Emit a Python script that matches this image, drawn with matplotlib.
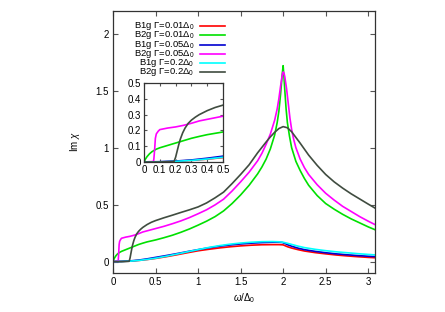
import matplotlib
matplotlib.use('Agg')
import matplotlib.pyplot as plt

plt.rcParams['font.family'] = ['Liberation Sans', 'DejaVu Sans']
plt.rcParams['font.size'] = 7
plt.rcParams['mathtext.fontset'] = 'custom'
plt.rcParams['mathtext.rm'] = 'Liberation Sans'
plt.rcParams['mathtext.it'] = 'Liberation Sans:italic'

# values (omega / Delta_0 , Im chi)
x_b1g_001 = [0, 0.1, 0.2, 0.3, 0.4, 0.5, 0.625, 0.75, 0.875, 1.0, 1.125, 1.25,
             1.375, 1.5, 1.625, 1.75, 1.875, 1.95, 2.0, 2.025, 2.05, 2.1, 2.175,
             2.25, 2.375, 2.5, 2.625, 2.75, 2.875, 3.0, 3.08]
y_b1g_001 = [0, 0.001, 0.004, 0.01, 0.018, 0.028, 0.043, 0.06, 0.078, 0.095,
             0.108, 0.12, 0.13, 0.138, 0.144, 0.148, 0.149, 0.149, 0.147, 0.139,
             0.131, 0.119, 0.105, 0.093, 0.079, 0.068, 0.058, 0.05, 0.043, 0.037,
             0.034]

x_b2g_001 = [0, 0.01, 0.02, 0.035, 0.05, 0.075, 0.1, 0.15, 0.2, 0.25, 0.3, 0.35,
             0.4, 0.5, 0.6, 0.7, 0.8, 0.9, 1.0, 1.1, 1.2, 1.3, 1.4, 1.5, 1.6, 1.7,
             1.75, 1.8, 1.85, 1.9, 1.93, 1.95, 1.97, 1.99, 2.0, 2.01, 2.02, 2.035,
             2.05, 2.075, 2.1, 2.15, 2.2, 2.25, 2.3, 2.4, 2.5, 2.6, 2.7, 2.8, 2.9,
             3.0, 3.08]
y_b2g_001 = [0, 0.02, 0.035, 0.052, 0.065, 0.08, 0.09, 0.105, 0.12, 0.135, 0.15,
             0.162, 0.173, 0.19, 0.21, 0.232, 0.258, 0.287, 0.32, 0.355, 0.395,
             0.445, 0.51, 0.585, 0.67, 0.77, 0.83, 0.9, 0.99, 1.11, 1.22, 1.32,
             1.47, 1.65, 1.72, 1.62, 1.5, 1.34, 1.22, 1.1, 1.0, 0.88, 0.8, 0.73,
             0.67, 0.58, 0.51, 0.46, 0.415, 0.375, 0.34, 0.305, 0.28]

x_b1g_005 = [0, 0.1, 0.2, 0.3, 0.4, 0.5, 0.625, 0.75, 0.875, 1.0, 1.125, 1.25,
             1.375, 1.5, 1.625, 1.75, 1.875, 1.95, 1.99, 2.025, 2.05, 2.1, 2.175,
             2.25, 2.375, 2.5, 2.625, 2.75, 2.875, 3.0, 3.08]
y_b1g_005 = [0, 0.002, 0.006, 0.013, 0.024, 0.037, 0.053, 0.07, 0.088, 0.105,
             0.121, 0.135, 0.146, 0.155, 0.162, 0.167, 0.17, 0.17, 0.168, 0.158,
             0.149, 0.135, 0.118, 0.105, 0.09, 0.078, 0.068, 0.06, 0.053, 0.047,
             0.044]

x_b2g_005 = [0, 0.06, 0.0625, 0.065, 0.068, 0.072, 0.078, 0.09, 0.1, 0.15, 0.2,
             0.25, 0.3, 0.35, 0.4, 0.5, 0.6, 0.7, 0.8, 0.9, 1.0, 1.1, 1.2, 1.3,
             1.4, 1.5, 1.6, 1.7, 1.75, 1.8, 1.85, 1.9, 1.93, 1.95, 1.97, 1.99,
             2.0, 2.01, 2.02, 2.04, 2.06, 2.08, 2.1, 2.125, 2.15, 2.2, 2.25, 2.3,
             2.4, 2.5, 2.6, 2.7, 2.8, 2.9, 3.0, 3.08]
y_b2g_005 = [0, 0.003, 0.02, 0.05, 0.09, 0.15, 0.178, 0.195, 0.205, 0.215, 0.222,
             0.232, 0.245, 0.26, 0.27, 0.29, 0.31, 0.333, 0.358, 0.387, 0.42,
             0.455, 0.498, 0.548, 0.62, 0.7, 0.785, 0.885, 0.95, 1.03, 1.12, 1.24,
             1.34, 1.43, 1.54, 1.64, 1.665, 1.655, 1.62, 1.52, 1.39, 1.26, 1.16,
             1.07, 1.0, 0.9, 0.825, 0.765, 0.675, 0.6, 0.54, 0.485, 0.44, 0.395,
             0.355, 0.325]

x_b1g_02 = [0, 0.1, 0.2, 0.3, 0.4, 0.5, 0.625, 0.75, 0.875, 1.0, 1.125, 1.25,
            1.375, 1.5, 1.625, 1.75, 1.875, 1.95, 2.0, 2.05, 2.1, 2.175, 2.25,
            2.375, 2.5, 2.625, 2.75, 2.875, 3.0, 3.08]
y_b1g_02 = [0, 0.001, 0.004, 0.01, 0.019, 0.03, 0.047, 0.066, 0.086, 0.105, 0.124,
            0.14, 0.153, 0.163, 0.17, 0.175, 0.176, 0.174, 0.17, 0.161, 0.151,
            0.136, 0.123, 0.108, 0.096, 0.086, 0.078, 0.07, 0.063, 0.059]

x_b2g_02 = [0, 0.1, 0.19, 0.2, 0.21, 0.22, 0.23, 0.245, 0.26, 0.28, 0.3, 0.325,
            0.35, 0.4, 0.45, 0.5, 0.6, 0.7, 0.8, 0.9, 1.0, 1.1, 1.2, 1.3, 1.4, 1.5,
            1.6, 1.7, 1.8, 1.85, 1.9, 1.95, 2.0, 2.05, 2.1, 2.15, 2.2, 2.3, 2.4,
            2.5, 2.6, 2.7, 2.8, 2.9, 3.0, 3.08]
y_b2g_02 = [0, 0, 0.003, 0.03, 0.07, 0.11, 0.145, 0.185, 0.215, 0.245, 0.265,
            0.284, 0.3, 0.325, 0.345, 0.36, 0.385, 0.408, 0.432, 0.455, 0.48,
            0.515, 0.56, 0.61, 0.685, 0.765, 0.85, 0.955, 1.05, 1.095, 1.135,
            1.168, 1.185, 1.175, 1.14, 1.09, 1.04, 0.935, 0.845, 0.765, 0.7, 0.645,
            0.595, 0.55, 0.505, 0.47]

labels = [r'B1g $\Gamma$=0.01$\Delta_0$', r'B2g $\Gamma$=0.01$\Delta_0$',
          r'B1g $\Gamma$=0.05$\Delta_0$', r'B2g $\Gamma$=0.05$\Delta_0$',
          r'B1g $\Gamma$=0.2$\Delta_0$', r'B2g $\Gamma$=0.2$\Delta_0$']
colors = ['#ff0000', '#00e000', '#0000d0', '#ff00ff', '#00ffff', '#404c40']
series = [(x_b1g_001, y_b1g_001), (x_b2g_001, y_b2g_001),
          (x_b1g_005, y_b1g_005), (x_b2g_005, y_b2g_005),
          (x_b1g_02, y_b1g_02), (x_b2g_02, y_b2g_02)]


def style_axes(ax):
    for sp in ax.spines.values():
        sp.set_color('#333333')
        sp.set_linewidth(0.9)
    ax.tick_params(direction='in', top=True, right=True, length=3.5,
                   width=0.8, color='#555555', labelsize=7, pad=3)


fig = plt.figure(figsize=(4.45, 3.12), dpi=100)
ax = fig.add_axes([113 / 445, 39 / 312, 262 / 445, 262 / 312])

for (xs, ys), c in zip(series, colors):
    ax.plot(xs, ys, color=c, lw=1.2)

ax.set_xlim(0, 3.08)
ax.set_ylim(-0.1, 2.2)
ax.set_xticks([0, 0.5, 1, 1.5, 2, 2.5, 3])
ax.set_xticklabels(['0', '0.5', '1', '1.5', '2', '2.5', '3'])
ax.set_yticks([0, 0.5, 1, 1.5, 2])
ax.set_yticklabels(['0', '0.5', '1', '1.5', '2'])
ax.set_xlabel(r'$\omega/\Delta_0$', fontsize=7, labelpad=3)
ax.set_ylabel(r'Im $\chi$', fontsize=7, labelpad=10)
style_axes(ax)

# gnuplot style key: right-justified text, sample line to the right
key_text_x = 0.31
key_line = (0.333, 0.428)
key_top = 0.943
key_step = 0.0355
for i, (lab, c) in enumerate(zip(labels, colors)):
    ky = key_top - i * key_step
    ax.text(key_text_x, ky, lab, transform=ax.transAxes, ha='right',
            va='center', fontsize=6.8)
    ax.plot(key_line, [ky, ky], transform=ax.transAxes, color=c, lw=1.2)

# inset: zoom on the low-energy part
axin = fig.add_axes([144 / 445, 150 / 312, 79 / 445, 79 / 312])
for (xs, ys), c in zip(series, colors):
    axin.plot(xs, ys, color=c, lw=1.2)
axin.set_xlim(0, 0.5)
axin.set_ylim(0, 0.5)
ticks = [0, 0.1, 0.2, 0.3, 0.4, 0.5]
tick_lbl = ['0', '0.1', '0.2', '0.3', '0.4', '0.5']
axin.set_xticks(ticks)
axin.set_xticklabels(tick_lbl)
axin.set_yticks(ticks)
axin.set_yticklabels(tick_lbl)
style_axes(axin)
axin.tick_params(length=2.5, pad=2)

fig.savefig('out.png', dpi=100)
